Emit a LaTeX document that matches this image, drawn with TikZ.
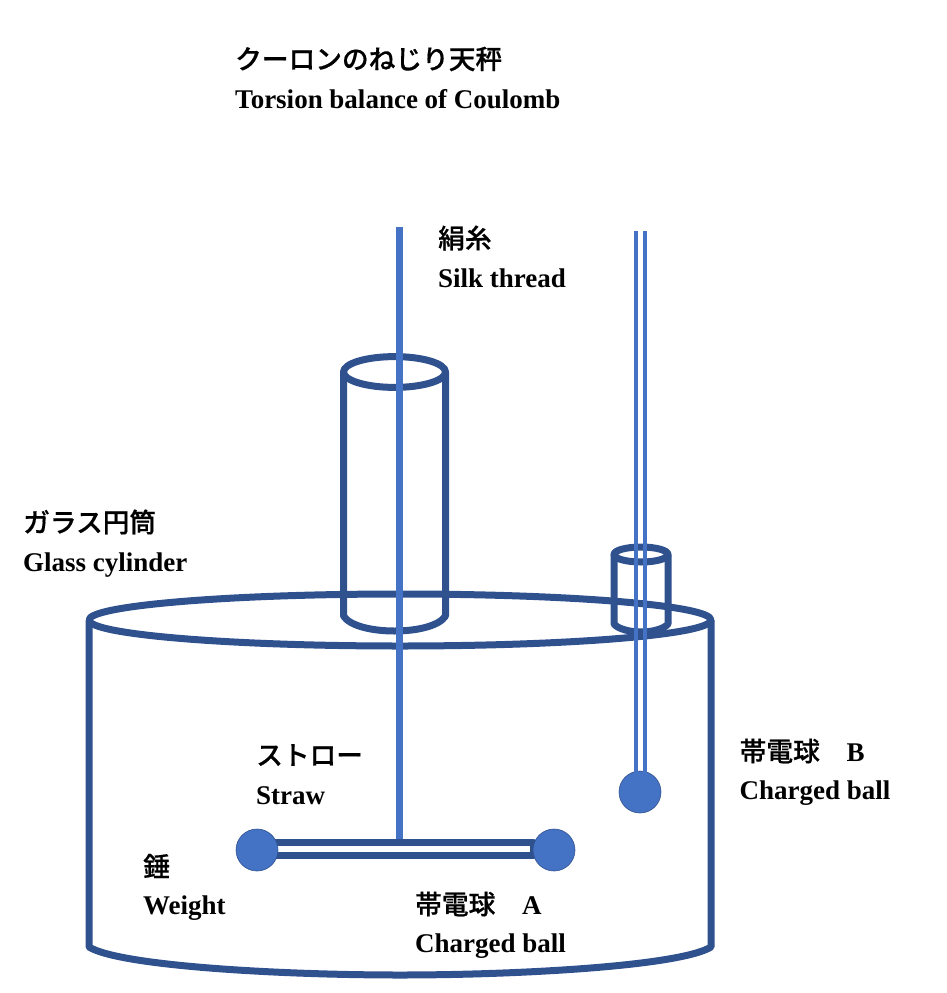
\documentclass[tikz,border=0pt]{standalone}
\usepackage{fontspec}
\setmainfont{Liberation Serif}
\newfontfamily\jpfont[FakeBold=0.5]{Noto Sans CJK JP Medium}
\definecolor{framecol}{HTML}{2F528F}
\definecolor{threadcol}{HTML}{4472C4}
\tikzset{
  outline/.style={draw=framecol,line width=7pt,line join=round},
  thread/.style={draw=threadcol,line width=7pt},
  thinthread/.style={draw=threadcol,line width=4.7pt},
  ball/.style={circle,fill=threadcol,draw=framecol,line width=0.6pt,minimum size=42pt,inner sep=0pt},
  labeljp/.style={anchor=west,inner sep=0pt,font=\fontsize{26.7}{30}\jpfont},
  labelen/.style={anchor=base west,inner sep=0pt,font=\fontsize{27}{30}\bfseries}
}
\begin{document}
\begin{tikzpicture}[x=1pt,y=-1pt]
      \useasboundingbox (0,0) rectangle (946,993);
      % glass cylinder
      \draw[outline] (400,620) ellipse [x radius=311,y radius=26];
      \draw[outline] (89,620) -- (89,947) .. controls (120,966) and (280,975) .. (400,975)
        .. controls (520,975) and (680,966) .. (711,947) -- (711,620);
      % tall tube
      \draw[outline] (394.5,372) ellipse [x radius=51,y radius=15.4];
      \draw[outline] (343.5,372) -- (343.5,616) .. controls (350,626) and (372,631) .. (394.5,631)
        .. controls (417,631) and (439,626) .. (445.5,616) -- (445.5,372);
      % small tube
      \draw[outline] (641,554.5) ellipse [x radius=27,y radius=7.5];
      \draw[outline] (614,554.5) -- (614,624) .. controls (618,629) and (630,632) .. (641,632)
        .. controls (652,632) and (664,629) .. (668,624) -- (668,554.5);
      % straw
      \draw[outline] (257,842) rectangle (533,855.5);
      % balls
      \node[ball] (ballL) at (257,850) {};
      \node[ball] (ballR) at (554,850) {};
      \node[ball] (ballB) at (640,792) {};
      % threads
      \coordinate (topA) at (399.3,227);
      \coordinate (endA) at (399.3,839);
      \coordinate (topB1) at (636,231);
      \coordinate (endB1) at (636,775);
      \coordinate (topB2) at (645,231);
      \coordinate (endB2) at (645,775);
      \draw[thread] (topA) to (endA);
      \draw[thinthread] (topB1) to (endB1);
      \draw[thinthread] (topB2) to (endB2);
      % labels
      \node[labeljp] (titlejp) at (235,59) {クーロンのねじり天秤};
      \node[labelen] (titleen) at (235,108) {Torsion balance of Coulomb};
      \node[labeljp] (silkjp) at (438,238) {絹糸};
      \node[labelen] (silken) at (438,287) {Silk thread};
      \node[labeljp] (glassjp) at (23,522) {ガラス円筒};
      \node[labelen] (glassen) at (23,571) {Glass cylinder};
      \node[labeljp] (strawjp) at (256,755) {ストロー};
      \node[labelen] (strawen) at (256,804) {Straw};
      \node[labeljp] (weightjp) at (143,866) {錘};
      \node[labelen] (weighten) at (143,914) {Weight};
      \node[labeljp] (ballAjp) at (415,904) {帯電球　{\fontsize{27}{30}\rmfamily\bfseries A}};
      \node[labelen] (ballAen) at (415,952) {Charged ball};
      \node[labeljp] (ballBjp) at (739.5,751) {帯電球　{\fontsize{27}{30}\rmfamily\bfseries B}};
      \node[labelen] (ballBen) at (739.5,799) {Charged ball};
    \end{tikzpicture}
\end{document}
